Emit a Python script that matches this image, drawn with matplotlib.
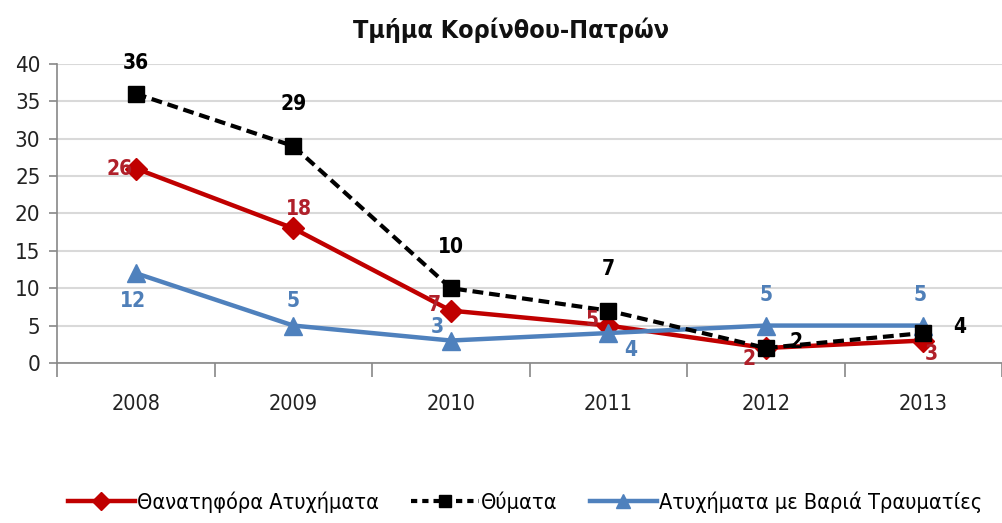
import matplotlib
matplotlib.use("Agg")
import matplotlib.pyplot as plt
from matplotlib.lines import Line2D

plt.rcParams['font.family'] = ['DejaVu Sans']
plt.rcParams['font.stretch'] = 'condensed'

years = ["2008", "2009", "2010", "2011", "2012", "2013"]
fatal = [26, 18, 7, 5, 2, 3]
victims = [36, 29, 10, 7, 2, 4]
serious = [12, 5, 3, 4, 5, 5]

RED = "#C00000"
RED_TXT = "#B0202A"
BLUE = "#4F81BD"
BLUE_TXT = "#4F7FB8"

fig = plt.figure(figsize=(10.02, 5.23), dpi=100)
ax = fig.add_axes([0.057, 0.306, 0.943, 0.572])

x = list(range(len(years)))

ax.plot(x, fatal, color=RED, lw=3.2, marker="D", ms=11, mfc=RED, mec=RED, zorder=3)
ax.plot(x, serious, color=BLUE, lw=3.2, marker="^", ms=13, mfc=BLUE, mec=BLUE, zorder=3)
ax.plot(x, victims, color="black", lw=3.0, ls=(0, (2.6, 1.4)), marker="s", ms=11,
        mfc="black", mec="black", zorder=4)

ax.set_xlim(-0.5, 5.47)
ax.set_ylim(0, 40)
ax.set_yticks(range(0, 41, 5))
ax.set_xticks(x)
ax.set_xticklabels(years)
ax.set_xticks([i - 0.5 for i in range(len(years) + 1)], minor=True)
ax.tick_params(axis="x", which="major", length=0, pad=22, labelsize=15.5, labelcolor="#222222")
ax.tick_params(axis="x", which="minor", length=10, width=1.2, color="#888888", direction="out")
ax.tick_params(axis="y", length=6, width=1.2, color="#888888", labelsize=16, labelcolor="#222222", pad=6)

ax.grid(axis="y", color="#D9D9D9", lw=1.5)
ax.set_axisbelow(True)
for s in ["top", "right"]:
    ax.spines[s].set_visible(False)
for s in ["left", "bottom"]:
    ax.spines[s].set_color("#888888")
    ax.spines[s].set_linewidth(1.2)

lbl = dict(fontsize=15, fontweight="bold", zorder=5)

# Θανατηφόρα labels
red_off = [(-12, 0), (4, 14), (-12, 4), (-12, 4), (-12, -8), (6, -10)]
for xi, v, (dx, dy) in zip(x, fatal, red_off):
    ax.annotate(str(v), (xi, v), xytext=(dx, dy), textcoords="offset points",
                ha="center", va="center", color=RED_TXT, **lbl)

# Θύματα labels
blk_off = [(0, 22), (0, 30), (0, 30), (0, 30), (22, 4), (26, 4)]
for xi, v, (dx, dy) in zip(x, victims, blk_off):
    ax.annotate(str(v), (xi, v), xytext=(dx, dy), textcoords="offset points",
                ha="center", va="center", color="black", **lbl)

# Βαριά Τραυματίες labels
blu_off = [(-2, -20), (0, 18), (-10, 10), (16, -12), (0, 22), (-2, 22)]
for xi, v, (dx, dy) in zip(x, serious, blu_off):
    ax.annotate(str(v), (xi, v), xytext=(dx, dy), textcoords="offset points",
                ha="center", va="center", color=BLUE_TXT, **lbl)

fig.text(0.51, 0.942, "Τμήμα Κορίνθου-Πατρών", ha="center", va="center",
         fontsize=18, fontweight="bold", color="#111111")

handles = [
    Line2D([], [], color=RED, lw=3.2, marker="D", ms=9),
    Line2D([], [], color="black", lw=3.0, ls=(0, (1.5, 1.2)), marker="s", ms=9),
    Line2D([], [], color=BLUE, lw=3.2, marker="^", ms=10),
]
names = ["Θανατηφόρα Ατυχήματα", "Θύματα", "Ατυχήματα με Βαριά Τραυματίες"]
fig.legend(handles, names, loc="center", bbox_to_anchor=(0.524, 0.04), ncol=3,
           frameon=False, fontsize=15.6, handlelength=3.1, handletextpad=0.1,
           columnspacing=1.5)

fig.savefig("out.png", dpi=100)
